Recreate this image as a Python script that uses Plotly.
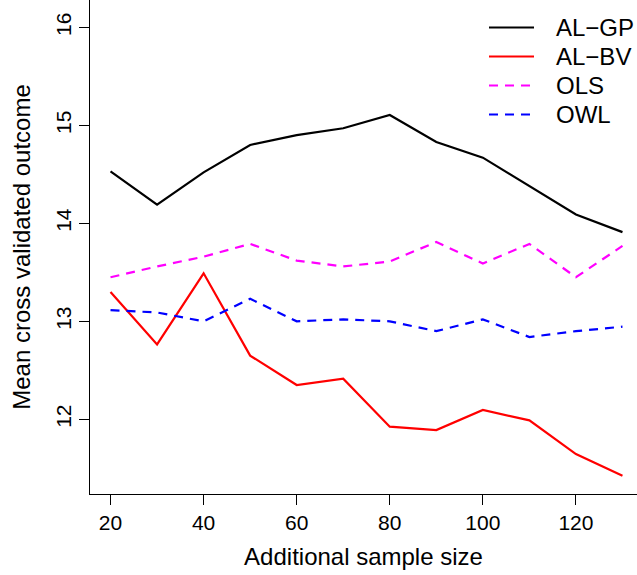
import plotly.graph_objects as go

sample_size = [20, 30, 40, 50, 60, 70, 80, 90, 100, 110, 120, 130]
al_gp = [14.53, 14.19, 14.52, 14.80, 14.90, 14.97, 15.105, 14.83, 14.67, 14.38, 14.09, 13.91]
al_bv = [13.30, 12.765, 13.49, 12.65, 12.35, 12.415, 11.925, 11.89, 12.095, 11.99, 11.645, 11.425]
ols = [13.45, 13.56, 13.66, 13.79, 13.62, 13.56, 13.61, 13.81, 13.59, 13.79, 13.45, 13.77]
owl = [13.115, 13.09, 13.00, 13.23, 13.00, 13.02, 13.00, 12.90, 13.02, 12.84, 12.90, 12.945]

series_names = ["AL\u2212GP", "AL\u2212BV", "OLS", "OWL"]
series_values = [al_gp, al_bv, ols, owl]
series_colors = ["#000000", "#FF0000", "#FF00FF", "#0000FF"]
series_dash = ["solid", "solid", "9px,7px", "9px,7px"]

x_ticks = [20, 40, 60, 80, 100, 120]
y_ticks = [12, 13, 14, 15, 16]

FONT = "Liberation Sans, Arial, Helvetica, sans-serif"
W, H = 637, 575
ML, MR, MT, MB = 90, 0, 0, 81
LW = 2.2

fig = go.Figure()
for name, vals, col, dash in zip(series_names, series_values, series_colors, series_dash):
    fig.add_trace(go.Scatter(x=sample_size, y=vals, mode="lines", name=name,
                             line=dict(color=col, width=LW, dash=dash),
                             showlegend=False))

# manual legend (top right), R-style
pw = W - ML - MR
ph = H - MT - MB
def px2paper_x(px):
    return (px - ML) / pw
def px2paper_y(py):
    return (H - MB - py) / ph

leg_x0, leg_x1, leg_tx = 489, 534, 554
leg_y0, leg_dy = 27.5, 29.0
shapes = []
annotations = []
for i, (name, col, dash) in enumerate(zip(series_names, series_colors, series_dash)):
    py = leg_y0 + i * leg_dy
    shapes.append(dict(type="line", xref="paper", yref="paper",
                       x0=px2paper_x(leg_x0), x1=px2paper_x(leg_x1),
                       y0=px2paper_y(py), y1=px2paper_y(py),
                       line=dict(color=col, width=LW, dash=dash)))
    annotations.append(dict(text=name, xref="paper", yref="paper",
                            x=px2paper_x(leg_tx), y=px2paper_y(py),
                            xanchor="left", yanchor="middle", showarrow=False,
                            font=dict(family=FONT, size=24, color="black")))

fig.update_layout(
    width=W, height=H,
    margin=dict(l=ML, r=MR, t=MT, b=MB, pad=0),
    paper_bgcolor="white", plot_bgcolor="white",
    font=dict(family=FONT, color="black"),
    shapes=shapes, annotations=annotations,
    showlegend=False,
)
fig.update_xaxes(
    range=[15.59, 133.12], tickvals=x_ticks, ticktext=[str(v) for v in x_ticks],
    showline=True, linecolor="black", linewidth=1, mirror=False,
    ticks="outside", ticklen=10, tickcolor="black", tickwidth=1,
    showgrid=False, zeroline=False,
    tickfont=dict(family=FONT, size=21),
    title=dict(text="Additional sample size", font=dict(family=FONT, size=24), standoff=14),
)
fig.update_yaxes(
    range=[11.238, 16.279], tickvals=y_ticks, ticktext=[str(v) for v in y_ticks],
    showline=True, linecolor="black", linewidth=1, mirror=False,
    ticks="outside", ticklen=10, tickcolor="black", tickwidth=1,
    showgrid=False, zeroline=False, tickangle=-90,
    tickfont=dict(family=FONT, size=21),
    title=dict(text="Mean cross validated outcome", font=dict(family=FONT, size=24), standoff=14),
)

fig.write_html("out.html")
